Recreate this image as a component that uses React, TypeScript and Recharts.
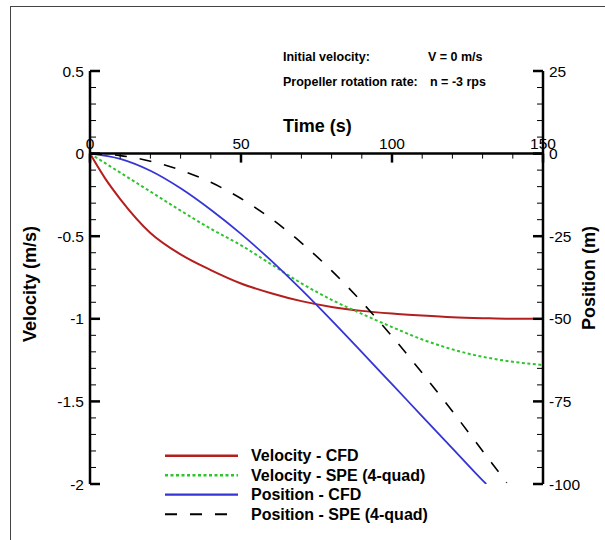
import { LineChart, Line, XAxis, YAxis, ReferenceLine } from 'recharts'

// Velocity - CFD (m/s)
const T_VEL_CFD = [0, 5, 10, 20, 30, 40, 50, 60, 70, 80, 90, 100, 110, 120, 130, 140, 147]
const VEL_CFD = [0, -0.15, -0.275, -0.48, -0.61, -0.705, -0.786, -0.845, -0.893, -0.928, -0.952, -0.968, -0.98, -0.99, -0.996, -1.0, -1.0]

// Velocity - SPE (4-quad) (m/s)
const T_VEL_SPE = [0, 10, 20, 30, 40, 50, 60, 70, 80, 90, 100, 110, 120, 130, 140, 150]
const VEL_SPE = [0, -0.115, -0.23, -0.345, -0.455, -0.555, -0.67, -0.785, -0.885, -0.97, -1.05, -1.125, -1.185, -1.23, -1.26, -1.28]

// Position - CFD (m)
const T_POS_CFD = [0, 10, 20, 30, 40, 50, 60, 70, 80, 90, 100, 110, 120, 130, 131.2]
const POS_CFD = [0, -1.6, -5.2, -10.5, -17, -24.3, -32.4, -41.2, -50.5, -60.1, -69.8, -79.5, -89.2, -98.9, -100]

// Position - SPE (4-quad) (m)
const T_POS_SPE = [0, 10, 20, 30, 40, 50, 60, 70, 80, 90, 100, 110, 120, 130, 138]
const POS_SPE = [0, -0.6, -2.3, -5, -8.7, -13.6, -19.7, -27, -35.4, -44.9, -55.3, -66.4, -78, -90, -99.6]

const X_MAJOR = [0, 50, 100, 150]
const V_MAJOR = [-2, -1.5, -1, -0.5, 0, 0.5]
const P_MAJOR = [-100, -75, -50, -25, 0, 25]

const W = 605
const H = 540
const MARGIN = { top: 71, right: 2, bottom: 55, left: 30 }
const X_AXIS_H = 1
const AXIS_W = 60
const PLOT_LEFT = MARGIN.left + AXIS_W
const PLOT_RIGHT = W - MARGIN.right - AXIS_W
const PLOT_H = H - MARGIN.top - MARGIN.bottom - X_AXIS_H
const V_MIN = V_MAJOR[0]
const V_MAX = V_MAJOR[V_MAJOR.length - 1]
const ZERO_Y = MARGIN.top + (PLOT_H * V_MAX) / (V_MAX - V_MIN)

const FONT = '"Liberation Sans", Arial, Helvetica, sans-serif'

// minor ticks: 5 divisions between major ticks
const subdivide = (major: number[], n: number) => {
  const out: number[] = []
  for (let i = 0; i < major.length - 1; i++) {
    const step = (major[i + 1] - major[i]) / n
    for (let k = 0; k < n; k++) out.push(Math.round((major[i] + k * step) * 1000) / 1000)
  }
  out.push(major[major.length - 1])
  return out
}
const X_TICKS = subdivide(X_MAJOR, 5)
const V_TICKS = subdivide(V_MAJOR, 5)
const P_TICKS = subdivide(P_MAJOR, 5)

const zip = (t: number[], v: number[]) => t.map((x, i) => ({ t: x, v: v[i] }))

const SERIES = [
  { name: 'Velocity - CFD', data: zip(T_VEL_CFD, VEL_CFD), axis: 'v', color: '#b41e1e', dash: undefined, width: 2 },
  { name: 'Velocity - SPE (4-quad)', data: zip(T_VEL_SPE, VEL_SPE), axis: 'v', color: '#2ec42e', dash: '3 2.5', width: 2 },
  { name: 'Position - CFD', data: zip(T_POS_CFD, POS_CFD), axis: 'p', color: '#3535d6', dash: undefined, width: 1.8 },
  { name: 'Position - SPE (4-quad)', data: zip(T_POS_SPE, POS_SPE), axis: 'p', color: '#000000', dash: '12 13', width: 1.6 },
]

const XTick = (props: any) => {
  const { x, payload } = props
  const major = X_MAJOR.includes(payload.value)
  return (
    <g>
      <line x1={x} x2={x} y1={ZERO_Y} y2={ZERO_Y + (major ? 9 : 5)} stroke="#000" strokeWidth={major ? 2.5 : 1} />
      {major && (
        <text x={x} y={ZERO_Y - 5} textAnchor="middle" fontSize={15.5} fontFamily={FONT} fill="#000">
          {payload.value}
        </text>
      )}
    </g>
  )
}

const LeftTick = (props: any) => {
  const { y, payload } = props
  const major = V_MAJOR.includes(payload.value)
  return (
    <g>
      <line x1={PLOT_LEFT} x2={PLOT_LEFT + (major ? 10 : 6)} y1={y} y2={y} stroke="#000" strokeWidth={major ? 2.5 : 1} />
      {major && (
        <text x={PLOT_LEFT - 6} y={y + 5.5} textAnchor="end" fontSize={15.5} fontFamily={FONT} fill="#000">
          {payload.value}
        </text>
      )}
    </g>
  )
}

const RightTick = (props: any) => {
  const { y, payload } = props
  const major = P_MAJOR.includes(payload.value)
  return (
    <g>
      <line x1={PLOT_RIGHT} x2={PLOT_RIGHT - (major ? 10 : 6)} y1={y} y2={y} stroke="#000" strokeWidth={major ? 2.5 : 1} />
      {major && (
        <text x={PLOT_RIGHT + 6} y={y + 5.5} textAnchor="start" fontSize={15.5} fontFamily={FONT} fill="#000">
          {payload.value}
        </text>
      )}
    </g>
  )
}

export default function App() {
  return (
    <div style={{ position: 'absolute', left: 0, top: 0, width: W, height: H, background: '#fff', fontFamily: FONT }}>
      <div style={{ position: 'absolute', left: 10, top: 6, width: W - 10, height: H - 6, borderTop: '1px solid #444', borderLeft: '1px solid #444' }} />
      <LineChart width={W} height={H} margin={MARGIN}>
        <XAxis
          dataKey="t"
          type="number"
          domain={[0, 150]}
          ticks={X_TICKS}
          interval={0}
          height={X_AXIS_H}
          axisLine={false}
          tickLine={false}
          tick={<XTick />}
          allowDataOverflow
        />
        <YAxis
          yAxisId="v"
          orientation="left"
          type="number"
          domain={[V_MIN, V_MAX]}
          ticks={V_TICKS}
          interval={0}
          width={AXIS_W}
          axisLine={{ stroke: '#000', strokeWidth: 2.5 }}
          tickLine={false}
          tick={<LeftTick />}
          allowDataOverflow
        />
        <YAxis
          yAxisId="p"
          orientation="right"
          type="number"
          domain={[-100, 25]}
          ticks={P_TICKS}
          interval={0}
          width={AXIS_W}
          axisLine={{ stroke: '#000', strokeWidth: 2.5 }}
          tickLine={false}
          tick={<RightTick />}
          allowDataOverflow
        />
        <ReferenceLine yAxisId="v" y={0} stroke="#000" strokeWidth={2.5} />
        {SERIES.map((s) => (
          <Line
            key={s.name}
            name={s.name}
            data={s.data}
            dataKey="v"
            yAxisId={s.axis}
            type="monotone"
            stroke={s.color}
            strokeWidth={s.width}
            strokeDasharray={s.dash}
            dot={false}
            activeDot={false}
            isAnimationActive={false}
          />
        ))}
      </LineChart>
      <svg width={W} height={H} style={{ position: 'absolute', left: 0, top: 0, pointerEvents: 'none' }}>
        <g fontFamily={FONT} fill="#000">
          <text x={283} y={61} fontSize={12.5} fontWeight="bold">Initial velocity:</text>
          <text x={428} y={61} fontSize={12.5} fontWeight="bold">V = 0 m/s</text>
          <text x={283} y={85.5} fontSize={12.5} fontWeight="bold">Propeller rotation rate:</text>
          <text x={430} y={85.5} fontSize={12.5} fontWeight="bold">n = -3 rps</text>
          <text x={283} y={132} fontSize={18} fontWeight="bold">Time (s)</text>
          <text x={36} y={284} fontSize={18} fontWeight="bold" textAnchor="middle" transform="rotate(-90 36 284)">
            Velocity (m/s)
          </text>
          <text x={594.5} y={278} fontSize={18} fontWeight="bold" textAnchor="middle" transform="rotate(-90 594.5 278)">
            Position (m)
          </text>
          {SERIES.map((s, i) => {
            const y = 455.7 + i * 19.5
            return (
              <g key={s.name}>
                <line x1={165} x2={238} y1={y} y2={y} stroke={s.color} strokeWidth={s.width + 0.4} strokeDasharray={s.dash} />
                <text x={251} y={y + 5.5} fontSize={16} fontWeight="bold">{s.name}</text>
              </g>
            )
          })}
        </g>
      </svg>
    </div>
  )
}
